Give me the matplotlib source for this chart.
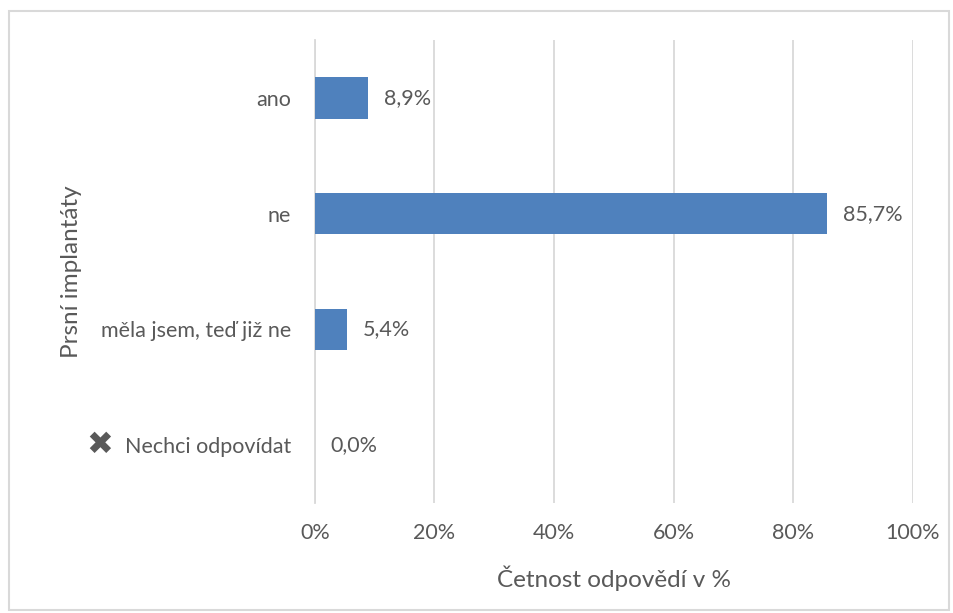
import matplotlib.pyplot as plt
from matplotlib.patches import Rectangle

# Odpovědi na otázku o prsních implantátech (četnost v %)
categories = ['ano', 'ne', 'měla jsem, teď již ne', 'Nechci odpovídat']
values = [8.9, 85.7, 5.4, 0.0]
xticks = [0, 20, 40, 60, 80, 100]

plt.rcParams['font.family'] = ['Lato', 'DejaVu Sans']
text_color = '#595959'
bar_color = '#4f81bd'

fig = plt.figure(figsize=(9.54, 6.13), dpi=100)
ax = fig.add_axes([0.330, 0.179, 0.627, 0.756])

pos = list(range(len(categories)))[::-1]
ax.barh(pos, values, height=0.36, color=bar_color, zorder=3)

for p, v in zip(pos, values):
    ax.text(v + 2.6, p, f'{v:.1f}%'.replace('.', ','), va='center', ha='left',
            fontsize=15.5, color=text_color)

ax.set_xlim(0, 100)
ax.set_ylim(-0.5, len(categories) - 0.5)
ax.set_xticks(xticks)
ax.set_xticklabels([f'{t}%' for t in xticks])
ax.set_yticks(pos)
ax.set_yticklabels(categories)
ax.tick_params(axis='both', length=0, labelsize=15.5, labelcolor=text_color)
ax.tick_params(axis='x', pad=14)
ax.tick_params(axis='y', pad=17)

# křížek před poslední odpovědí
ax.annotate('\u2716', xy=(100, pos[-1]), xycoords=('figure pixels', 'data'),
            ha='center', va='center', fontsize=23, color=text_color,
            family='DejaVu Sans', annotation_clip=False)

ax.grid(axis='x', color='#d9d9d9', linewidth=1.3, zorder=0)
for side in ['top', 'right', 'bottom']:
    ax.spines[side].set_visible(False)
ax.spines['left'].set_color('#d9d9d9')
ax.spines['left'].set_linewidth(1.3)

ax.set_xlabel('Četnost odpovědí v %', fontsize=17.5, color=text_color)
ax.set_ylabel('Prsní implantáty', fontsize=17.5, color=text_color)
ax.xaxis.set_label_coords(0.5, -0.135)
ax.yaxis.set_label_coords(-0.39, 0.5)

# rámeček kolem celého grafu
fig.patches.append(Rectangle((9 / 954, 3 / 613), 940 / 954, 599 / 613,
                             transform=fig.transFigure, fill=False,
                             edgecolor='#d9d9d9', linewidth=1.5))

fig.savefig('out.png', dpi=100)
